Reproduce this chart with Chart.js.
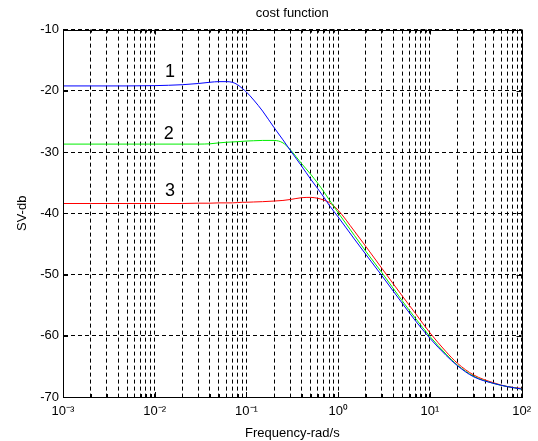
<!DOCTYPE html>
<html><head><meta charset="utf-8">
<script src="https://cdn.jsdelivr.net/npm/chart.js@4"></script>
<style>html,body{margin:0;padding:0;background:#fff;}canvas{display:block;}</style>
</head><body>
<canvas id="c" width="538" height="441"></canvas>
<script>
const frequencies = [0.001, 0.002, 0.005, 0.01, 0.02, 0.03, 0.04, 0.05, 0.06, 0.07, 0.08, 0.09, 0.1, 0.12, 0.15, 0.2, 0.25, 0.3, 0.4, 0.5, 0.6, 0.7, 0.8, 1, 1.5, 2, 3, 5, 7, 10, 15, 20, 30, 50, 70, 100];
const curve1 = [-19.2, -19.2, -19.2, -19.15, -19.0, -18.8, -18.6, -18.5, -18.5, -18.6, -19.0, -19.6, -20.2, -21.5, -23.3, -26.0, -28.0, -29.7, -32.3, -34.4, -36.0, -37.4, -38.7, -40.6, -44.2, -46.7, -50.2, -54.7, -57.6, -60.4, -63.2, -64.9, -66.7, -67.8, -68.3, -68.7];
const curve2 = [-28.7, -28.7, -28.7, -28.7, -28.7, -28.7, -28.65, -28.5, -28.4, -28.35, -28.3, -28.25, -28.2, -28.15, -28.1, -28.1, -28.5, -29.6, -31.9, -33.6, -35.1, -36.5, -37.8, -39.9, -43.6, -46.2, -49.7, -54.3, -57.2, -60.1, -63.0, -64.8, -66.6, -67.8, -68.3, -68.7];
const curve3 = [-38.4, -38.4, -38.4, -38.4, -38.4, -38.35, -38.35, -38.3, -38.3, -38.3, -38.25, -38.2, -38.2, -38.15, -38.1, -38.0, -37.9, -37.75, -37.45, -37.4, -37.55, -37.85, -38.25, -39.5, -42.9, -45.4, -49.0, -53.5, -56.4, -59.5, -62.6, -64.5, -66.4, -67.7, -68.3, -68.6];
const seriesNames = ['1', '2', '3'];
const seriesColors = ['#0000ff', '#00ee00', '#ff0000'];
const labelFreq = [0.0147, 0.0142, 0.0147];
const labelDb = [-16.9, -27.0, -36.4];
const yTicks = [-70, -60, -50, -40, -30, -20, -10];
const xDecades = [-3, -2, -1, 0, 1, 2];
const xMultipliers = [1, 2, 3, 4, 5, 6, 7, 8, 9];

const FONT = '"Liberation Sans", Arial, Helvetica, sans-serif';
const sup = {'-': '\u207B', '0': '\u2070', '1': '\u00B9', '2': '\u00B2', '3': '\u00B3'};
const xTickValues = [];
xDecades.forEach((e, i) => {
  if (i === xDecades.length - 1) { xTickValues.push(Math.pow(10, e)); return; }
  xMultipliers.forEach(m => xTickValues.push(m * Math.pow(10, e)));
});
function isPow10(v) { const e = Math.round(Math.log10(v)); return Math.abs(v - Math.pow(10, e)) < 1e-9 * Math.pow(10, e); }

const curves = [curve1, curve2, curve3];
const datasets = curves.map((c, i) => ({
  label: seriesNames[i],
  data: frequencies.map((f, k) => ({x: f, y: c[k]})),
  borderColor: seriesColors[i],
  borderWidth: 1,
  pointRadius: 0,
  fill: false,
  cubicInterpolationMode: 'monotone'
}));

const decor = {
  id: 'decor',
  afterDraw(chart) {
    const {ctx, chartArea: a, scales: {x, y}} = chart;
    ctx.save();
    ctx.setLineDash([]);
    ctx.strokeStyle = '#000';
    ctx.lineWidth = 1;
    ctx.beginPath();
    x.ticks.forEach(t => {
      const px = Math.round(x.getPixelForValue(t.value)) + 0.5;
      const len = isPow10(t.value) ? 5 : 3;
      ctx.moveTo(px, a.bottom); ctx.lineTo(px, a.bottom - len);
      ctx.moveTo(px, a.top); ctx.lineTo(px, a.top + len);
    });
    y.ticks.forEach(t => {
      const py = Math.round(y.getPixelForValue(t.value)) + 0.5;
      ctx.moveTo(a.left, py); ctx.lineTo(a.left + 5, py);
      ctx.moveTo(a.right, py); ctx.lineTo(a.right - 5, py);
    });
    ctx.stroke();
    ctx.strokeRect(Math.round(a.left) + 0.5, Math.round(a.top) + 0.5, Math.round(a.right - a.left), Math.round(a.bottom - a.top));
    ctx.font = '18px ' + FONT;
    ctx.fillStyle = '#000';
    ctx.textAlign = 'center';
    ctx.textBaseline = 'middle';
    seriesNames.forEach((t, i) => ctx.fillText(t, x.getPixelForValue(labelFreq[i]), y.getPixelForValue(labelDb[i])));
    ctx.restore();
  }
};

new Chart(document.getElementById('c'), {
  type: 'line',
  data: {datasets},
  plugins: [decor],
  options: {
    responsive: false,
    animation: false,
    devicePixelRatio: 1,
    layout: {padding: {left: 0, right: 10, top: 0, bottom: 0}},
    plugins: {
      legend: {display: false},
      tooltip: {enabled: false},
      title: {
        display: true, text: 'cost function', fullSize: false, color: '#000',
        font: {family: FONT, size: 13, weight: 'normal'},
        padding: {top: 6, bottom: 8}
      }
    },
    scales: {
      x: {
        type: 'logarithmic', min: 0.001, max: 100,
        afterBuildTicks: s => { s.ticks = xTickValues.map(v => ({value: v, major: isPow10(v)})); },
        afterFit: s => { s.height = 44; },
        ticks: {
          autoSkip: false, maxRotation: 0, minRotation: 0, padding: 7, color: '#000',
          font: {family: FONT, size: 13},
          callback: v => isPow10(v) ? '10' + String(Math.round(Math.log10(v))).split('').map(c => sup[c]).join('') : ''
        },
        grid: {color: '#000', lineWidth: 1, drawTicks: false},
        border: {display: true, color: '#000', dash: [4, 3]},
        title: {display: true, text: 'Frequency-rad/s', color: '#000', font: {family: FONT, size: 13}, padding: {top: 0, bottom: 0}}
      },
      y: {
        type: 'linear', min: -70, max: -10,
        afterBuildTicks: s => { s.ticks = yTicks.map(v => ({value: v})); },
        afterFit: s => { s.width = 63; },
        ticks: {padding: 4, color: '#000', font: {family: FONT, size: 13}},
        grid: {color: '#000', lineWidth: 1, drawTicks: false},
        border: {display: true, color: '#000', dash: [4, 3]},
        title: {display: true, text: 'SV-db', color: '#000', font: {family: FONT, size: 13}, padding: {top: 15, bottom: 0}}
      }
    }
  }
});
</script>
</body></html>
